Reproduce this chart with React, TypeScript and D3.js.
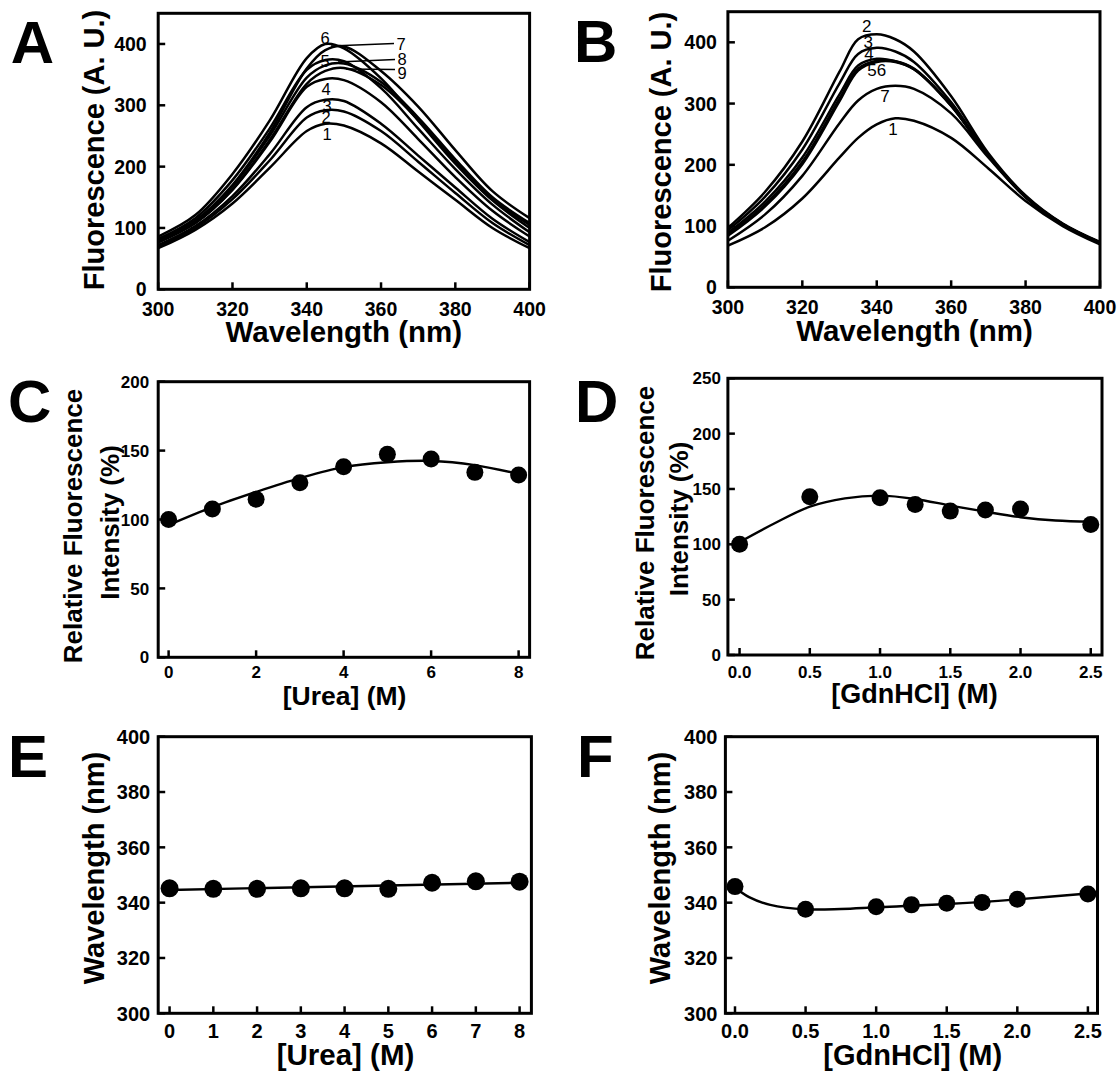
import React, { useEffect } from 'react';
import * as d3 from 'd3';

const FONT = '"Liberation Sans", Arial, Helvetica, sans-serif';

// ---------- Panel A: emission spectra, urea series ----------
const WL_A = [300, 310, 320, 330, 340, 345, 350, 360, 370, 380, 390, 400];
const A_1 = [67, 97, 140, 198, 258, 270, 267, 238, 192, 146, 100, 67];
const A_2 = [70, 100, 147, 210, 280, 292, 290, 258, 208, 157, 108, 72];
const A_3 = [72, 103, 152, 220, 297, 309, 307, 270, 218, 166, 115, 77];
const A_4 = [76, 108, 162, 240, 330, 343, 341, 305, 245, 183, 128, 86];
const A_5 = [82, 116, 178, 262, 358, 374, 372, 328, 262, 196, 138, 93];
const A_6 = [86, 121, 188, 275, 377, 400, 393, 344, 275, 205, 145, 100];
const A_7 = [80, 112, 170, 255, 360, 390, 396, 356, 298, 227, 160, 116];
const A_8 = [80, 110, 168, 250, 345, 365, 368, 338, 280, 212, 150, 108];
const A_9 = [78, 108, 163, 243, 335, 356, 361, 333, 276, 208, 147, 105];
const A_NAMES = ['1', '2', '3', '4', '5', '6', '7', '8', '9'];

// ---------- Panel B: emission spectra, GdnHCl series ----------
const WL_B = [300, 310, 320, 330, 335, 340, 345, 350, 360, 370, 380, 390, 400];
const B_1 = [68, 98, 145, 212, 244, 266, 276, 272, 244, 194, 141, 100, 70];
const B_2 = [97, 156, 238, 352, 405, 413, 405, 385, 312, 219, 150, 104, 74];
const B_3 = [93, 148, 225, 333, 381, 391, 385, 368, 302, 216, 148, 103, 73];
const B_4 = [89, 140, 212, 315, 362, 373, 369, 356, 296, 214, 147, 103, 73];
const B_5 = [86, 135, 205, 308, 357, 370, 369, 357, 297, 215, 148, 103, 73];
const B_6 = [84, 132, 201, 304, 354, 368, 368, 356, 297, 215, 148, 103, 73];
const B_7 = [76, 119, 182, 268, 305, 324, 329, 324, 284, 212, 147, 102, 72];
const B_NAMES = ['1', '2', '3', '4', '5', '6', '7'];

// ---------- Panel C / E: urea ----------
const UREA = [0, 1, 2, 3, 4, 5, 6, 7, 8];
const C_REL = [100, 107.6, 114.7, 126.7, 138.3, 147.3, 143.9, 134.2, 132.3];
const C_FIT_X = [0, 1, 2, 3, 4, 5, 6, 7, 8];
const C_FIT_Y = [96, 109, 120, 130, 138, 141.5, 142.5, 139.5, 133];
const E_WL = [345.2, 345, 345, 345.2, 345.2, 345, 347.2, 347.7, 347.6];
const E_FIT_X = [0, 8];
const E_FIT_Y = [344.6, 347.2];

// ---------- Panel D / F: GdnHCl ----------
const GDN = [0, 0.5, 1.0, 1.25, 1.5, 1.75, 2.0, 2.5];
const D_REL = [100, 143, 142, 136, 130, 131, 132, 118];
const D_FIT_X = [0, 0.25, 0.5, 0.75, 1, 1.25, 1.5, 1.75, 2, 2.25, 2.5];
const D_FIT_Y = [102, 119, 134, 141.5, 144, 141, 135, 129.5, 124.5, 121.5, 120.5];
const F_WL = [345.8, 337.6, 338.5, 339.2, 339.8, 340.1, 341.2, 343.1];
const F_FIT_X = [0, 0.1, 0.25, 0.5, 0.75, 1, 1.5, 2, 2.5];
const F_FIT_Y = [345.5, 342, 339.2, 337.6, 337.7, 338.3, 339.5, 341.2, 343.3];

// ---------- ticks ----------
const TICKS_WL = [300, 320, 340, 360, 380, 400];
const TICKS_FL = [0, 100, 200, 300, 400];
const TICKS_C_X = [0, 2, 4, 6, 8];
const TICKS_C_Y = [0, 50, 100, 150, 200];
const TICKS_D_X = [0, 0.5, 1, 1.5, 2, 2.5];
const TICKS_D_Y = [0, 50, 100, 150, 200, 250];
const TICKS_E_X = [0, 1, 2, 3, 4, 5, 6, 7, 8];
const TICKS_E_Y = [300, 320, 340, 360, 380, 400];
const TICKS_F_X = [0, 0.5, 1, 1.5, 2, 2.5];
const TICKS_F_Y = [300, 320, 340, 360, 380, 400];

type Box = { l: number; r: number; t: number; b: number };
type Scale = d3.ScaleLinear<number, number>;

function zip(xs: number[], ys: number[]): [number, number][] {
  return xs.map((v, i) => [v, ys[i]] as [number, number]);
}

function path(xs: number[], ys: number[], x: Scale, y: Scale, curve: d3.CurveFactory) {
  return (
    d3
      .line<[number, number]>()
      .x((d) => x(d[0]))
      .y((d) => y(d[1]))
      .curve(curve)(zip(xs, ys)) || ''
  );
}

type PanelProps = {
  box: Box;
  xDomain: [number, number];
  yDomain: [number, number];
  xTicks: number[];
  yTicks: number[];
  xFmt: (v: number) => string;
  yFmt: (v: number) => string;
  tickFont: number;
  xLabelBaseline: number;
  yLabelGap: number;
  xTitle: string;
  xTitleX: number;
  xTitleY: number;
  xTitleFont: number;
  yTitles: { text: string; x: number; y: number }[];
  yTitleFont: number;
  letter: string;
  letterX: number;
  letterY: number;
  render: (x: Scale, y: Scale) => React.ReactNode;
};

function Panel(p: PanelProps) {
  const { box } = p;
  const x = d3.scaleLinear().domain(p.xDomain).range([box.l, box.r]);
  const y = d3.scaleLinear().domain(p.yDomain).range([box.b, box.t]);
  const tl = 7;
  return (
    <g>
      {p.render(x, y)}
      <rect x={box.l} y={box.t} width={box.r - box.l} height={box.b - box.t} fill="none" stroke="#000" strokeWidth={3} />
      {p.xTicks.map((v) => (
        <g key={'xt' + v}>
          <line x1={x(v)} x2={x(v)} y1={box.b} y2={box.b - tl} stroke="#000" strokeWidth={2.5} />
          <text x={x(v)} y={p.xLabelBaseline} textAnchor="middle" fontSize={p.tickFont} fontWeight="bold">
            {p.xFmt(v)}
          </text>
        </g>
      ))}
      {p.yTicks.map((v) => (
        <g key={'yt' + v}>
          <line x1={box.l} x2={box.l + tl} y1={y(v)} y2={y(v)} stroke="#000" strokeWidth={2.5} />
          <text x={box.l - p.yLabelGap} y={y(v)} dy="0.36em" textAnchor="end" fontSize={p.tickFont} fontWeight="bold">
            {p.yFmt(v)}
          </text>
        </g>
      ))}
      <text x={p.xTitleX} y={p.xTitleY} textAnchor="middle" fontSize={p.xTitleFont} fontWeight="bold">
        {p.xTitle}
      </text>
      {p.yTitles.map((t, i) => (
        <text
          key={'ytl' + i}
          transform={`translate(${t.x},${t.y}) rotate(-90)`}
          textAnchor="middle"
          fontSize={p.yTitleFont}
          fontWeight="bold"
        >
          {t.text}
        </text>
      ))}
      <text x={p.letterX} y={p.letterY} fontSize={60} fontWeight="bold">
        {p.letter}
      </text>
    </g>
  );
}

const fmtInt = d3.format('d');
const fmt1 = d3.format('.1f');
const smooth = d3.curveCatmullRom.alpha(0.5);

export default function App() {
  useEffect(() => {
    document.body.style.margin = '0';
  }, []);

  const A_SERIES = [A_1, A_2, A_3, A_4, A_5, A_6, A_7, A_8, A_9];
  const B_SERIES = [B_1, B_2, B_3, B_4, B_5, B_6, B_7];

  // label placement (layout only)
  const aLabelPos: [number, number][] = [
    [327, 139.5], [326, 123], [327, 112], [326, 95], [325, 67], [325, 43.5], [401, 50], [402, 65], [402, 78.5],
  ];
  const aLeaders: [number, number, number, number][] = [
    [331, 46, 394, 43.5],
    [338, 62, 395, 59.5],
    [346, 69, 395, 69.5],
  ];
  const bLabels: { t: string; x: number; y: number }[] = [
    { t: B_NAMES[1], x: 866.7, y: 31.5 },
    { t: B_NAMES[2], x: 868.3, y: 48 },
    { t: B_NAMES[3], x: 869, y: 60 },
    { t: B_NAMES[4] + B_NAMES[5], x: 876.7, y: 76 },
    { t: B_NAMES[6], x: 885, y: 101.5 },
    { t: B_NAMES[0], x: 893, y: 135 },
  ];

  return (
    <svg
      width={1119}
      height={1075}
      style={{ display: 'block', position: 'absolute', left: 0, top: 0, background: '#fff' }}
      fontFamily={FONT}
    >
      <rect x={0} y={0} width={1119} height={1075} fill="#fff" />

      {/* A */}
      <Panel
        box={{ l: 158.2, r: 529.6, t: 13.3, b: 289.3 }}
        xDomain={[300, 400]}
        yDomain={[0, 450]}
        xTicks={TICKS_WL}
        yTicks={TICKS_FL}
        xFmt={fmtInt}
        yFmt={fmtInt}
        tickFont={19.5}
        xLabelBaseline={315.5}
        yLabelGap={11.5}
        xTitle="Wavelength (nm)"
        xTitleX={343.8}
        xTitleY={342}
        xTitleFont={29.5}
        yTitles={[{ text: 'Fluorescence (A. U.)', x: 104, y: 150 }]}
        yTitleFont={29}
        letter="A"
        letterX={10.7}
        letterY={63}
        render={(x, y) => (
          <g>
            {A_SERIES.map((s, i) => (
              <path key={'a' + i} d={path(WL_A, s, x, y, smooth)} fill="none" stroke="#000" strokeWidth={2.5} />
            ))}
            {aLeaders.map((l, i) => (
              <line key={'al' + i} x1={l[0]} y1={l[1]} x2={l[2]} y2={l[3]} stroke="#000" strokeWidth={1.5} />
            ))}
            {A_NAMES.map((n, i) => (
              <text key={'an' + i} x={aLabelPos[i][0]} y={aLabelPos[i][1]} textAnchor="middle" fontSize={16.5}>
                {n}
              </text>
            ))}
          </g>
        )}
      />

      {/* B */}
      <Panel
        box={{ l: 727.9, r: 1100, t: 11.7, b: 287.3 }}
        xDomain={[300, 400]}
        yDomain={[0, 450]}
        xTicks={TICKS_WL}
        yTicks={TICKS_FL}
        xFmt={fmtInt}
        yFmt={fmtInt}
        tickFont={19.5}
        xLabelBaseline={313.5}
        yLabelGap={11}
        xTitle="Wavelength (nm)"
        xTitleX={914.5}
        xTitleY={341}
        xTitleFont={29.5}
        yTitles={[{ text: 'Fluorescence (A. U.)', x: 671, y: 152 }]}
        yTitleFont={29}
        letter="B"
        letterX={574}
        letterY={62}
        render={(x, y) => (
          <g>
            {B_SERIES.map((s, i) => (
              <path key={'b' + i} d={path(WL_B, s, x, y, smooth)} fill="none" stroke="#000" strokeWidth={2.5} />
            ))}
            {bLabels.map((l, i) => (
              <text key={'bl' + i} x={l.x} y={l.y} textAnchor="middle" fontSize={17}>
                {l.t}
              </text>
            ))}
          </g>
        )}
      />

      {/* C */}
      <Panel
        box={{ l: 158.2, r: 529.6, t: 381.7, b: 657.3 }}
        xDomain={[-0.238, 8.251]}
        yDomain={[0, 200]}
        xTicks={TICKS_C_X}
        yTicks={TICKS_C_Y}
        xFmt={fmtInt}
        yFmt={fmtInt}
        tickFont={17}
        xLabelBaseline={678}
        yLabelGap={9}
        xTitle="[Urea] (M)"
        xTitleX={344.6}
        xTitleY={705}
        xTitleFont={26.5}
        yTitles={[
          { text: 'Relative Fluorescence', x: 82, y: 526 },
          { text: 'Intensity (%)', x: 118.5, y: 522.5 },
        ]}
        yTitleFont={26}
        letter="C"
        letterX={8}
        letterY={422}
        render={(x, y) => (
          <g>
            <path d={path(C_FIT_X, C_FIT_Y, x, y, smooth)} fill="none" stroke="#000" strokeWidth={2.4} />
            {UREA.map((u, i) => (
              <circle key={'c' + i} cx={x(u)} cy={y(C_REL[i])} r={8.5} fill="#000" />
            ))}
          </g>
        )}
      />

      {/* D */}
      <Panel
        box={{ l: 727.9, r: 1102, t: 378.3, b: 655 }}
        xDomain={[-0.083, 2.58]}
        yDomain={[0, 250]}
        xTicks={TICKS_D_X}
        yTicks={TICKS_D_Y}
        xFmt={fmt1}
        yFmt={fmtInt}
        tickFont={17}
        xLabelBaseline={678}
        yLabelGap={7}
        xTitle="[GdnHCl] (M)"
        xTitleX={914.5}
        xTitleY={703}
        xTitleFont={27}
        yTitles={[
          { text: 'Relative Fluorescence', x: 653.5, y: 523 },
          { text: 'Intensity (%)', x: 687.5, y: 519 },
        ]}
        yTitleFont={26}
        letter="D"
        letterX={575}
        letterY={422}
        render={(x, y) => (
          <g>
            <path d={path(D_FIT_X, D_FIT_Y, x, y, smooth)} fill="none" stroke="#000" strokeWidth={2.4} />
            {GDN.map((g, i) => (
              <circle key={'d' + i} cx={x(g)} cy={y(D_REL[i])} r={8.5} fill="#000" />
            ))}
          </g>
        )}
      />

      {/* E */}
      <Panel
        box={{ l: 158.2, r: 531.4, t: 736.7, b: 1013.3 }}
        xDomain={[-0.26, 8.27]}
        yDomain={[300, 400]}
        xTicks={TICKS_E_X}
        yTicks={TICKS_E_Y}
        xFmt={fmtInt}
        yFmt={fmtInt}
        tickFont={20}
        xLabelBaseline={1038}
        yLabelGap={8}
        xTitle="[Urea] (M)"
        xTitleX={345.5}
        xTitleY={1065}
        xTitleFont={29.5}
        yTitles={[{ text: 'Wavelength (nm)', x: 104, y: 868 }]}
        yTitleFont={29}
        letter="E"
        letterX={8}
        letterY={777}
        render={(x, y) => (
          <g>
            <path d={path(E_FIT_X, E_FIT_Y, x, y, d3.curveLinear)} fill="none" stroke="#000" strokeWidth={2.4} />
            {UREA.map((u, i) => (
              <circle key={'e' + i} cx={x(u)} cy={y(E_WL[i])} r={9} fill="#000" />
            ))}
          </g>
        )}
      />

      {/* F */}
      <Panel
        box={{ l: 725.4, r: 1097.5, t: 736.7, b: 1013.3 }}
        xDomain={[-0.068, 2.568]}
        yDomain={[300, 400]}
        xTicks={TICKS_F_X}
        yTicks={TICKS_F_Y}
        xFmt={fmt1}
        yFmt={fmtInt}
        tickFont={20}
        xLabelBaseline={1038}
        yLabelGap={8}
        xTitle="[GdnHCl] (M)"
        xTitleX={912.7}
        xTitleY={1065}
        xTitleFont={29}
        yTitles={[{ text: 'Wavelength (nm)', x: 670, y: 868 }]}
        yTitleFont={29}
        letter="F"
        letterX={577}
        letterY={777}
        render={(x, y) => (
          <g>
            <path d={path(F_FIT_X, F_FIT_Y, x, y, smooth)} fill="none" stroke="#000" strokeWidth={2.4} />
            {GDN.map((g, i) => (
              <circle key={'f' + i} cx={x(g)} cy={y(F_WL[i])} r={8.5} fill="#000" />
            ))}
          </g>
        )}
      />
    </svg>
  );
}
